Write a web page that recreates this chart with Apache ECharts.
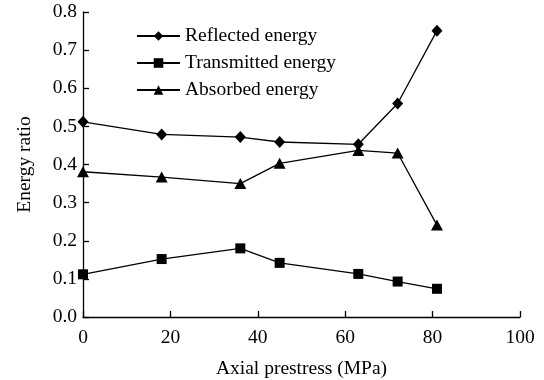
<!DOCTYPE html>
<html><head><meta charset="utf-8">
<script src="https://cdn.jsdelivr.net/npm/echarts@6/dist/echarts.min.js"></script>
<style>html,body{margin:0;padding:0;background:#fff}#c{width:544px;height:380px}</style>
</head><body><div id="c"></div>
<script>
var xValues = [0, 18, 36, 45, 63, 72, 81];
var reflected = [0.512, 0.479, 0.472, 0.459, 0.453, 0.560, 0.751];
var transmitted = [0.112, 0.152, 0.180, 0.142, 0.113, 0.093, 0.074];
var absorbed = [0.381, 0.367, 0.350, 0.403, 0.437, 0.430, 0.241];
var seriesNames = ['Reflected energy', 'Transmitted energy', 'Absorbed energy'];
var xTitle = 'Axial prestress (MPa)';
var yTitle = 'Energy ratio';

function pairs(ys){ return xValues.map(function(x,i){ return [x, ys[i]]; }); }
var font = 'Liberation Serif';
var fs = 19.5;
var chart = echarts.init(document.getElementById('c'));
var common = {
  type: 'line',
  lineStyle: {color: '#000', width: 1.3},
  itemStyle: {color: '#000'},
  showSymbol: true,
  animation: false
};
chart.setOption({
  animation: false,
  grid: {left: 83, right: 24, top: 12, bottom: 63, containLabel: false, outerBoundsMode: 'none'},
  legend: {
    orient: 'vertical', left: 131, top: 21,
    itemWidth: 43, itemHeight: 12, itemGap: 7,
    textStyle: {fontFamily: font, fontSize: fs, lineHeight: 20, color: '#000', padding: [0,0,0,0]},
    data: seriesNames
  },
  xAxis: {
    type: 'value', min: 0, max: 100, interval: 20,
    name: xTitle, nameLocation: 'middle', nameGap: 42,
    nameTextStyle: {fontFamily: font, fontSize: fs, color: '#000'},
    axisLine: {lineStyle: {color: '#000', width: 1.3}},
    axisTick: {inside: true, length: 6, lineStyle: {color: '#000', width: 1.3}},
    axisLabel: {fontFamily: font, fontSize: fs, color: '#000', margin: 11},
    splitLine: {show: false}
  },
  yAxis: {
    type: 'value', min: 0, max: 0.8, interval: 0.1,
    name: yTitle, nameLocation: 'middle', nameGap: 48,
    nameTextStyle: {fontFamily: font, fontSize: fs, color: '#000'},
    axisLine: {show: true, lineStyle: {color: '#000', width: 1.3}},
    axisTick: {show: true, inside: true, length: 6, lineStyle: {color: '#000', width: 1.3}},
    axisLabel: {fontFamily: font, fontSize: fs, color: '#000', margin: 6,
      formatter: function(v){ return v.toFixed(1); }},
    splitLine: {show: false}
  },
  series: [
    Object.assign({}, common, {name: seriesNames[0], data: pairs(reflected), symbol: 'diamond', symbolSize: [11, 12]}),
    Object.assign({}, common, {name: seriesNames[1], data: pairs(transmitted), symbol: 'rect', symbolSize: 10}),
    Object.assign({}, common, {name: seriesNames[2], data: pairs(absorbed), symbol: 'triangle', symbolSize: [12, 11]})
  ]
});
</script></body></html>
